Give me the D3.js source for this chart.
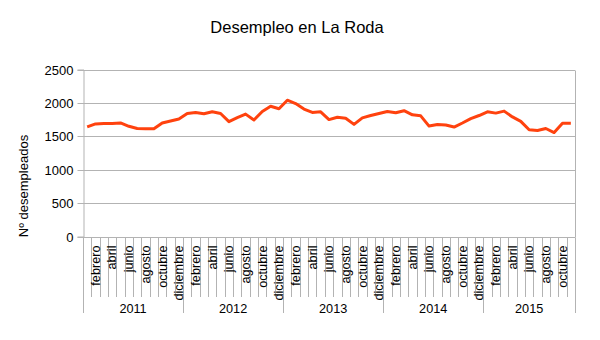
<!DOCTYPE html>
<html>
<head>
<meta charset="utf-8">
<script src="https://cdn.jsdelivr.net/npm/d3@7"></script>
<style>
  html, body { margin: 0; padding: 0; background: #fff; }
  svg { display: block; font-family: "Liberation Sans", Arial, sans-serif; }
</style>
</head>
<body>
<svg id="chart" width="600" height="340"></svg>
<script>
const title = "Desempleo en La Roda";
const yAxisTitle = "Nº desempleados";
const years = ["2011", "2012", "2013", "2014", "2015"];
const months = ["enero", "febrero", "marzo", "abril", "mayo", "junio", "julio",
                "agosto", "septiembre", "octubre", "noviembre", "diciembre"];
const shownMonths = ["febrero", "abril", "junio", "agosto", "octubre", "diciembre"];
const monthsPerYear = [12, 12, 12, 12, 11];
const yTicks = [0, 500, 1000, 1500, 2000, 2500];

const values2011 = [1640, 1685, 1692, 1690, 1700, 1650, 1617, 1612, 1612, 1700, 1730, 1760];
const values2012 = [1842, 1857, 1837, 1867, 1842, 1720, 1780, 1832, 1745, 1872, 1949, 1913];
const values2013 = [2040, 1990, 1908, 1857, 1867, 1750, 1786, 1770, 1678, 1775, 1811, 1842];
const values2014 = [1872, 1852, 1883, 1821, 1806, 1653, 1678, 1668, 1638, 1699, 1765, 1811];
const values2015 = [1867, 1847, 1877, 1790, 1724, 1597, 1587, 1617, 1556, 1694, 1694];

const yearValues = [values2011, values2012, values2013, values2014, values2015];

const data = [];
years.forEach((yr, yi) => {
  for (let m = 0; m < monthsPerYear[yi]; m++) {
    data.push({ key: yr + "-" + m, year: yr, month: months[m], value: yearValues[yi][m] });
  }
});

const svg = d3.select("#chart");
const mLeft = 83, mRight = 575, mTop = 69.5, mBottom = 236.5;
const grid = "#b3b3b3";

const x = d3.scaleBand().domain(data.map(d => d.key)).range([mLeft, mRight]).padding(0);
const y = d3.scaleLinear().domain([0, 2500]).range([mBottom, mTop]);

svg.append("text")
  .attr("x", 297).attr("y", 33)
  .attr("text-anchor", "middle")
  .attr("font-size", "16.5px")
  .attr("fill", "#000")
  .text(title);

svg.append("g").selectAll("line").data(yTicks).join("line")
  .attr("x1", mLeft).attr("x2", mRight)
  .attr("y1", d => Math.round(y(d)) + 0.5).attr("y2", d => Math.round(y(d)) + 0.5)
  .attr("stroke", grid).attr("stroke-width", 1);

svg.append("line")
  .attr("x1", mRight + 0.5).attr("x2", mRight + 0.5)
  .attr("y1", Math.round(y(2500)) + 0.5).attr("y2", Math.round(y(0)) + 0.5)
  .attr("stroke", grid);

const yAxis = d3.axisLeft(y).tickValues(yTicks).tickSize(6).tickPadding(4).tickFormat(d3.format("d"));
const yg = svg.append("g").attr("transform", `translate(${mLeft + 0.5},0)`).call(yAxis);
yg.select(".domain").attr("stroke", grid);
yg.selectAll(".tick line").attr("stroke", grid);
yg.selectAll(".tick text").attr("font-size", "13px").attr("fill", "#000")
  .attr("font-family", "Liberation Sans, Arial, sans-serif");
yg.selectAll(".tick").attr("transform", d => `translate(0,${Math.round(y(d)) + 0.5})`);

svg.append("text")
  .attr("transform", "translate(28,186) rotate(-90)")
  .attr("text-anchor", "middle")
  .attr("font-size", "13px")
  .attr("fill", "#000")
  .text(yAxisTitle);

const g = svg.append("g");
data.forEach((d, i) => {
  if (i === 0) return;
  const xx = Math.round(x(d.key)) + 0.5;
  const isYear = d.month === "enero";
  g.append("line")
    .attr("x1", xx).attr("x2", xx)
    .attr("y1", Math.round(y(0)) + 0.5).attr("y2", isYear ? 313 : 297)
    .attr("stroke", grid);
});
[mLeft, mRight].forEach(xx => {
  g.append("line")
    .attr("x1", xx + 0.5).attr("x2", xx + 0.5)
    .attr("y1", Math.round(y(0)) + 0.5).attr("y2", 313)
    .attr("stroke", grid);
});

svg.append("g").selectAll("text")
  .data(data.filter(d => shownMonths.includes(d.month)))
  .join("text")
  .attr("transform", d => `translate(${x(d.key) + x.bandwidth() / 2 + 4.3},245.5) rotate(-90)`)
  .attr("text-anchor", "end")
  .attr("font-size", "12.7px")
  .attr("fill", "#000")
  .text(d => d.month);

svg.append("g").selectAll("text").data(years).join("text")
  .attr("x", yr => {
    const ks = data.filter(d => d.year === yr);
    const x0 = x(ks[0].key), x1 = x(ks[ks.length - 1].key) + x.bandwidth();
    return (x0 + x1) / 2;
  })
  .attr("y", 313)
  .attr("text-anchor", "middle")
  .attr("font-size", "12.7px")
  .attr("fill", "#000")
  .text(d => d);

const line = d3.line()
  .x(d => x(d.key) + x.bandwidth() / 2)
  .y(d => y(d.value));
svg.append("path")
  .datum(data)
  .attr("d", line)
  .attr("fill", "none")
  .attr("stroke", "#ff420e")
  .attr("stroke-width", 3)
  .attr("stroke-linejoin", "round");
</script>
</body>
</html>
